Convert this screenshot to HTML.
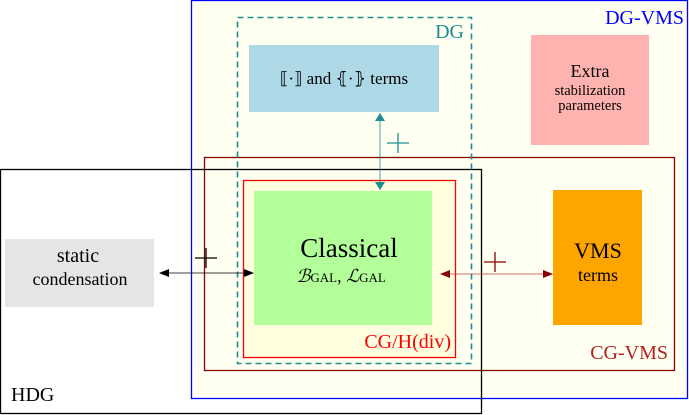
<!DOCTYPE html>
<html><head><meta charset="utf-8"><style>
html,body{margin:0;padding:0;background:#fff;}
svg{display:block;}
text{font-family:"Liberation Serif","DejaVu Serif",serif;}
</style></head><body>
<svg width="689" height="415" viewBox="0 0 689 415">
<defs>
<marker id="ak" markerWidth="10" markerHeight="8" refX="9" refY="4" orient="auto-start-reverse" markerUnits="userSpaceOnUse"><path d="M0,0 L10,4 L0,8 Z" fill="#000"/></marker>
<marker id="at" markerWidth="8" markerHeight="10" refX="8" refY="5" orient="auto-start-reverse" markerUnits="userSpaceOnUse"><path d="M0,0 L8,5 L0,10 Z" fill="#1a8f8f"/></marker>
<marker id="ar" markerWidth="10" markerHeight="8" refX="9" refY="4" orient="auto-start-reverse" markerUnits="userSpaceOnUse"><path d="M0,0 L10,4 L0,8 Z" fill="#8b0000"/></marker>
</defs>
<rect x="191.5" y="0.5" width="496" height="398" fill="#fffff2" stroke="#0000ff" stroke-width="1.3"/>
<text x="684" y="24" font-size="20" fill="#0000ff" text-anchor="end">DG-VMS</text>
<rect x="204.5" y="157.5" width="470" height="213" fill="none" stroke="#8b0000" stroke-width="1.3"/>
<text x="668" y="359" font-size="20" fill="#b22222" text-anchor="end">CG-VMS</text>
<rect x="243.5" y="180.5" width="212" height="177" fill="#ffffe0" stroke="#ff0000" stroke-width="1.3"/>
<text x="451" y="348" font-size="20" fill="#ff0000" text-anchor="end">CG/H(div)</text>
<rect x="0.5" y="169.5" width="481" height="244" fill="none" stroke="#000" stroke-width="1.3"/>
<text x="11" y="401" font-size="20" fill="#000">HDG</text>
<rect x="237.5" y="17.5" width="234" height="346" fill="none" stroke="#1a8f8f" stroke-width="1.6" stroke-dasharray="6,4"/>
<text x="464" y="38" font-size="20" fill="#1a8f8f" text-anchor="end">DG</text>
<rect x="249" y="45" width="190" height="67" fill="#add8e6"/>
<text x="344" y="84" font-size="17" text-anchor="middle" fill="#000">⟦·⟧ and ⦃·⦄ terms</text>
<rect x="531" y="35" width="118" height="110" fill="#ffb3b0"/>
<text x="590" y="77" font-size="18" text-anchor="middle">Extra</text>
<text x="590" y="95" font-size="14.5" text-anchor="middle">stabilization</text>
<text x="590" y="110" font-size="14.5" text-anchor="middle">parameters</text>
<rect x="254" y="191" width="178" height="134" fill="#b3ff99"/>
<text x="349" y="257" font-size="27" text-anchor="middle">Classical</text>
<text x="341" y="282" font-size="18" text-anchor="middle"><tspan font-style="italic">ℬ</tspan><tspan font-size="13">GAL</tspan>, <tspan font-style="italic">ℒ</tspan><tspan font-size="13">GAL</tspan></text>
<rect x="553" y="190" width="89" height="135" fill="#ffa500"/>
<text x="598" y="258" font-size="22" text-anchor="middle">VMS</text>
<text x="598" y="281" font-size="18" text-anchor="middle">terms</text>
<rect x="5" y="239" width="149" height="68" fill="#e5e5e5"/>
<text x="78" y="262" font-size="20" text-anchor="middle">static</text>
<text x="80" y="285" font-size="18" text-anchor="middle">condensation</text>
<line x1="160" y1="273" x2="253" y2="273" stroke="#000" stroke-width="0.8" marker-start="url(#ak)" marker-end="url(#ak)"/>
<path d="M195,258 H217 M206,248 V268" stroke="#000" stroke-width="1.3"/>
<line x1="380" y1="113" x2="380" y2="190" stroke="#1a8f8f" stroke-width="0.8" marker-start="url(#at)" marker-end="url(#at)"/>
<path d="M387,143 H409 M398,133 V153" stroke="#1a8f8f" stroke-width="1.3"/>
<line x1="441" y1="274" x2="552" y2="274" stroke="#c04040" stroke-width="0.8" marker-start="url(#ar)" marker-end="url(#ar)"/>
<path d="M484,262 H506 M495,252 V272" stroke="#8b0000" stroke-width="1.3"/>
</svg>
</body></html>
